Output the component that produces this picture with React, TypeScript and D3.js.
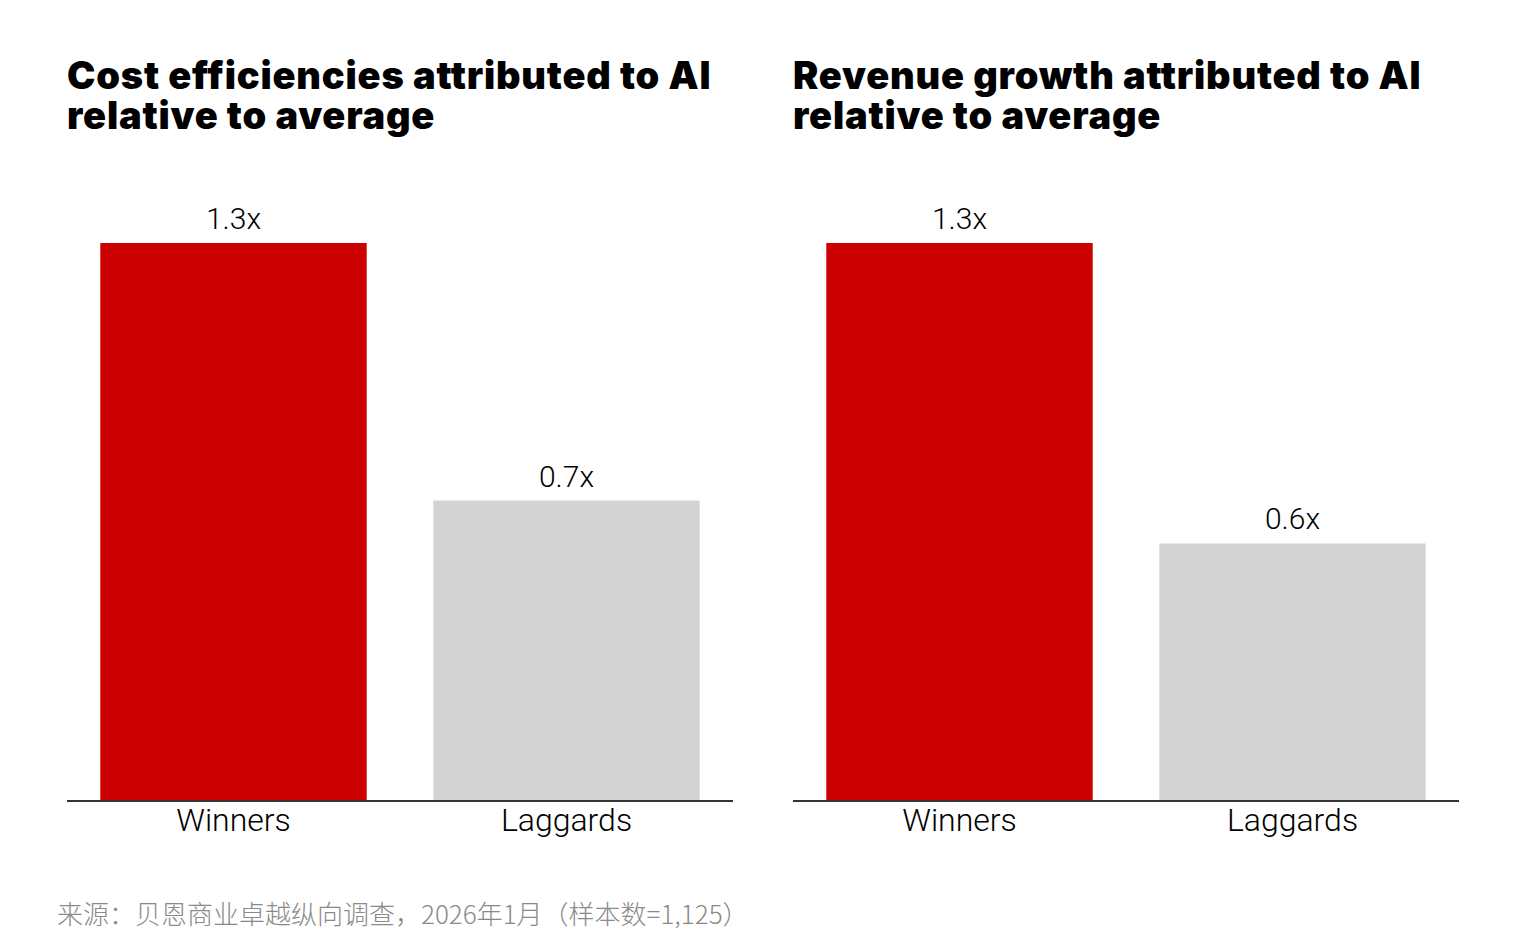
import React from "react";
import * as d3 from "d3";

const categories = ["Winners", "Laggards"];
const costValues = [1.3, 0.7];
const revenueValues = [1.3, 0.6];
const costTitle = ["Cost efficiencies attributed to AI", "relative to average"];
const revenueTitle = ["Revenue growth attributed to AI", "relative to average"];
const sourceNote = "来源：贝恩商业卓越纵向调查，2026年1月（样本数=1,125）";

const W = 1518;
const H = 946;
const baseY = 801;
const topY = 243;
const panelW = 666;
const barColors = ["#cc0000", "#d3d3d3"];

function Panel({ x0, title, values }: { x0: number; title: string[]; values: number[] }) {
  const xs = d3
    .scaleBand<string>()
    .domain(categories)
    .range([x0, x0 + panelW])
    .paddingInner(0.2)
    .paddingOuter(0.1);
  const ys = d3.scaleLinear().domain([0, 1.3]).range([baseY, topY]);
  return (
    <g>
      {/* two-line panel title as one text block */}
      <text
        x={x0}
        y={89}
        fontFamily="Inter, sans-serif"
        fontWeight={900}
        fontSize={38}
        letterSpacing={0.8}
        fill="#000"
      >
        {title.map((t, i) => (
          <tspan key={t} x={x0} dy={i === 0 ? 0 : 40}>
            {t}
          </tspan>
        ))}
      </text>
      {categories.map((c, i) => (
        <g key={c}>
          <rect
            x={xs(c)}
            y={ys(values[i])}
            width={xs.bandwidth()}
            height={baseY - ys(values[i])}
            fill={barColors[i]}
          />
          <text
            x={(xs(c) as number) + xs.bandwidth() / 2}
            y={ys(values[i]) - 14}
            textAnchor="middle"
            fontFamily="Roboto, sans-serif"
            fontWeight={300}
            fontSize={30}
            fill="#000"
          >
            {d3.format(".1f")(values[i]) + "x"}
          </text>
          <text
            x={(xs(c) as number) + xs.bandwidth() / 2}
            y={831}
            textAnchor="middle"
            fontFamily="Roboto, sans-serif"
            fontWeight={300}
            fontSize={32}
            fill="#000"
          >
            {c}
          </text>
        </g>
      ))}
      <line x1={x0} x2={x0 + panelW} y1={baseY} y2={baseY} stroke="#333" strokeWidth={2} />
    </g>
  );
}

export default function App() {
  return (
    <svg
      width={W}
      height={H}
      style={{ position: "absolute", left: 0, top: 0, background: "#fff" }}
    >
      <rect width={W} height={H} fill="#fff" />
      <Panel x0={67} title={costTitle} values={costValues} />
      <Panel x0={793} title={revenueTitle} values={revenueValues} />
      <text
        x={57}
        y={924}
        fontFamily="'Noto Sans CJK SC', sans-serif"
        fontWeight={300}
        fontSize={26}
        fill="#8a8a8a"
      >
        {sourceNote}
      </text>
    </svg>
  );
}
